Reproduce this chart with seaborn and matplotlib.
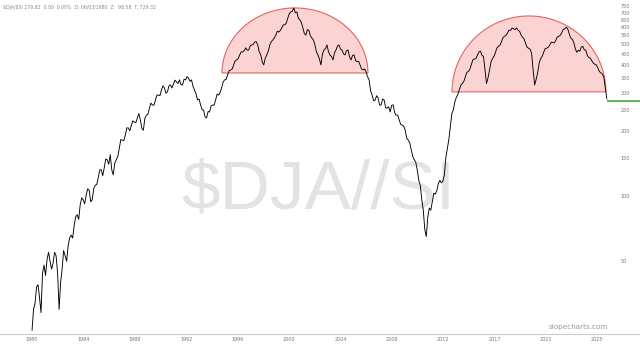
import numpy as np
import pandas as pd
import matplotlib
matplotlib.use("Agg")
import matplotlib.pyplot as plt
import seaborn as sns

# ---- data: ratio $DJA / $SI, evenly spaced samples ----
ratio = [
    24, 30, 32, 38, 39, 34, 29, 44, 48, 43, 51, 55, 50, 46, 49, 55, 53, 44, 30, 40,
    46, 56, 53, 50, 59, 64, 66, 64, 73, 80, 82, 78, 91, 98, 96, 92, 101, 108, 106, 94,
    96, 108, 112, 113, 121, 132, 132, 124, 135, 148, 147, 140, 155, 132, 125, 142, 147, 152, 166, 182,
    181, 180, 191, 206, 206, 200, 212, 222, 219, 218, 229, 240, 224, 205, 201, 228, 236, 238, 254, 268,
    263, 262, 277, 292, 292, 290, 308, 322, 315, 298, 302, 322, 325, 315, 328, 342, 336, 330, 343, 326,
    325, 345, 343, 355, 350, 338, 343, 320, 308, 296, 277, 280, 263, 250, 249, 232, 229, 245, 244, 260,
    263, 262, 277, 295, 292, 300, 315, 335, 343, 345, 362, 378, 381, 385, 402, 420, 424, 430, 447, 462,
    461, 468, 482, 470, 471, 492, 497, 500, 513, 515, 497, 462, 447, 415, 402, 432, 447, 465, 497, 515,
    524, 535, 552, 575, 570, 580, 596, 615, 616, 628, 662, 695, 705, 712, 736, 700, 705, 660, 649, 630,
    596, 560, 552, 585, 580, 548, 534, 525, 497, 462, 447, 428, 402, 452, 471, 478, 497, 462, 447, 440,
    424, 458, 471, 492, 497, 475, 471, 452, 447, 468, 471, 438, 424, 445, 447, 422, 416, 418, 402, 385,
    381, 385, 373, 355, 343, 305, 292, 275, 277, 290, 283, 262, 263, 280, 277, 255, 254, 258, 244, 262,
    263, 242, 236, 236, 224, 214, 212, 210, 201, 185, 181, 176, 163, 152, 147, 143, 132, 118, 112, 96,
    86, 70, 65, 80, 88, 86, 94, 103, 102, 106, 114, 118, 115, 117, 125, 150, 165, 182, 210, 240,
    250, 272, 285, 294, 310, 325, 330, 338, 355, 372, 375, 385, 405, 425, 428, 430, 445, 462, 465, 445,
    440, 380, 330, 350, 380, 415, 430, 440, 460, 482, 490, 496, 515, 538, 545, 550, 565, 582, 580, 595,
    590, 585, 596, 580, 575, 552, 540, 530, 505, 485, 480, 475, 455, 380, 325, 345, 370, 410, 430, 440,
    460, 478, 480, 485, 495, 512, 510, 508, 520, 540, 545, 550, 565, 585, 590, 600, 590, 558, 535, 528,
    510, 478, 460, 470, 465, 485, 490, 472, 470, 445, 435, 432, 420, 410, 405, 402, 390, 375, 370, 365,
    352, 315, 280,
]
start_date, end_date = "1980-06-03", "2025-11-01"
last_value = 274
tick_years = [1980.42, 1984.48, 1988.54, 1992.6, 1996.66, 2000.72,
              2004.78, 2008.84, 2012.9, 2016.96, 2021.02, 2025.08]
tick_labels = ["1980", "1984", "1988", "1992", "1996", "2000",
               "2004", "2008", "2012", "2017", "2021", "2025"]
y_ticks = [50, 100, 150, 200, 250, 300, 350, 400, 450, 500, 550, 600, 650, 700, 750]
# half-circle annotations: (start year, end year, base value, top value)
arcs = [(1995.43, 2006.96, 369, 736), (2013.6, 2025.76, 302, 676)]

# ---- figure ----
sns.set_style("white")
plt.rcParams["font.family"] = ["DejaVu Sans"]
fig = plt.figure(figsize=(6.4, 3.45), dpi=100)
ax = fig.add_axes([0, 11 / 345, 1, 334 / 345])

dates = pd.date_range(start_date, end_date, periods=len(ratio))
dec = dates.year + (dates.dayofyear - 1) / 365.25
df = pd.DataFrame({"t": dec, "v": ratio})

ax.set_yscale("log")
ax.set_xlim(1977.89, 2028.45)
ax.set_ylim(23.1, 801)

# arcs (drawn in data space, elliptical in log-y)
th = np.linspace(0, np.pi, 200)
for x0, x1, base, top in arcs:
    cx, a = (x0 + x1) / 2, (x1 - x0) / 2
    xs = cx + a * np.cos(th)
    ys = np.exp(np.log(base) + (np.log(top) - np.log(base)) * np.sin(th))
    ax.fill(xs, ys, facecolor="#fbd3d3", edgecolor="#e06666", lw=0.8, zorder=1)

# watermark
ax.text(0.497, 0.431, r"\$DJA//SI", transform=ax.transAxes, ha="center", va="center",
        fontsize=50, color="#e3e3e3", zorder=0,
        family=["Liberation Sans Narrow", "Liberation Sans", "DejaVu Sans"])

sns.lineplot(data=df, x="t", y="v", ax=ax, color="black", lw=0.65, zorder=3,
             estimator=None)

# current value marker line
ax.plot([df["t"].iloc[-1], 2028.45], [last_value, last_value], color="#5cb85c",
        lw=1.4, zorder=4, solid_capstyle="butt")

ax.set_xlabel("")
ax.set_ylabel("")
ax.set_yticks(y_ticks)
ax.set_yticklabels([str(v) for v in y_ticks])
ax.yaxis.set_minor_locator(matplotlib.ticker.NullLocator())
ax.yaxis.tick_right()
ax.tick_params(axis="y", length=0, pad=-14, labelsize=3.5, labelcolor="#777777")
ax.set_xticks(tick_years)
ax.set_xticklabels(tick_labels)
ax.tick_params(axis="x", length=0, pad=2, labelsize=3.5, labelcolor="#777777")
for s in ["top", "left", "right"]:
    ax.spines[s].set_visible(False)
ax.spines["bottom"].set_color("#cccccc")
ax.spines["bottom"].set_linewidth(0.8)

fig.text(0.004, 0.985, r"\$DJA/\$SI 279.82  0.00  0.00%  D: 06/03/1980  Z:  98.58  T: 729.32",
         fontsize=3.3, color="#888888", va="top", ha="left")
ax.text(0.95, 0.012, "slopecharts.com", transform=ax.transAxes, ha="right", va="bottom",
        fontsize=5.2, color="#999999")

fig.savefig("out.png", dpi=100)
